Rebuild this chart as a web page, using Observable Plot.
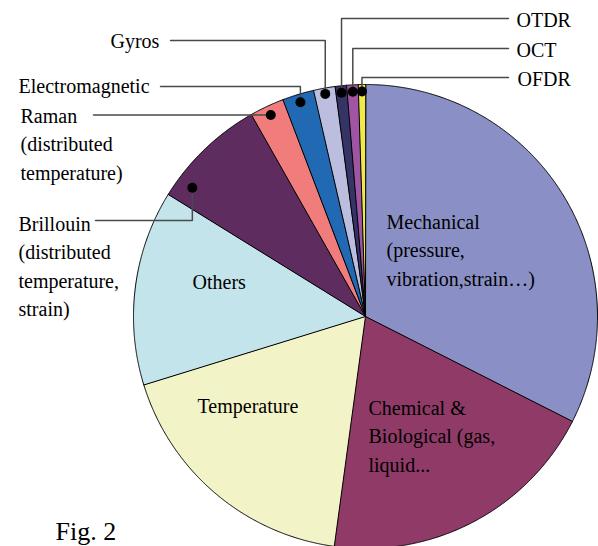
<!DOCTYPE html>
<html>
<head>
<meta charset="utf-8">
<script src="https://cdn.jsdelivr.net/npm/d3@7"></script>
<script src="https://cdn.jsdelivr.net/npm/@observablehq/plot@0.6"></script>
<style>
  html, body { margin: 0; padding: 0; background: #ffffff; }
  #chart svg { display: block; }
</style>
</head>
<body>
<div id="chart"></div>
<script>
// ---------- data ----------
const categories = ["Mechanical", "Chemical & Biological", "Temperature", "Others", "Brillouin",
  "Raman", "Electromagnetic", "Gyros", "OTDR", "OCT", "OFDR"];
const values = [32.5, 19.7, 18.1, 13.6, 8.0, 2.4, 2.2, 1.5, 0.8, 0.8, 0.5];
const labels = [
  "Mechanical\n(pressure,\nvibration,strain…)",
  "Chemical &\nBiological (gas,\nliquid...",
  "Temperature",
  "Others",
  "Brillouin\n(distributed\ntemperature,\nstrain)",
  "Raman\n(distributed\ntemperature)",
  "Electromagnetic",
  "Gyros",
  "OTDR",
  "OCT",
  "OFDR"
];
const figureLabel = "Fig. 2";

// ---------- styles ----------
const colors = ["#8a90c6", "#903a68", "#f3f3c8", "#c2e4ea", "#5f2c60",
  "#f07c7c", "#2169b3", "#bcbee0", "#363466", "#a054a4", "#eeea4c"];

// ---------- layout (pixels) ----------
const W = 598, H = 546, CX = 365, CY = 316, R = 232;
const px = x => (x - CX) / R;
const py = y => (CY - y) / R;
const LINE = 28.6, FS = 20;
const FONT = "'Liberation Serif', 'Times New Roman', serif";

// label anchors: x of text start, baseline of first line
const labelPos = {
  "Mechanical": [386, 228],
  "Chemical & Biological": [368, 414],
  "Temperature": [197, 412],
  "Others": [192, 288],
  "Brillouin": [18, 230],
  "Raman": [20, 122],
  "Electromagnetic": [18, 92],
  "Gyros": [110, 47],
  "OTDR": [516, 26],
  "OCT": [516, 56],
  "OFDR": [517, 85]
};
// callouts: dot inside slice (fraction along slice, fraction of radius), leader path
const callouts = {
  "Brillouin": {frac: 0.17, rf: 0.93, lineY: 220, endX: 95},
  "Raman": {frac: 0.5, rf: 0.96, lineY: null, endX: 93},
  "Electromagnetic": {frac: 0.5, rf: 0.965, lineY: 86, endX: 160},
  "Gyros": {frac: 0.5, rf: 0.975, lineY: 40, endX: 170},
  "OTDR": {frac: 0.5, rf: 0.97, lineY: 18, endX: 508},
  "OCT": {frac: 0.5, rf: 0.97, lineY: 48, endX: 508},
  "OFDR": {frac: 0.5, rf: 0.97, lineY: 77, endX: 508}
};

// ---------- geometry ----------
const arcs = d3.pie().sort(null).value((d, i) => values[i])(categories);

const sliceMarks = arcs.map((a, i) => {
  const pts = [{x: 0, y: 0}];
  const n = Math.max(2, Math.ceil((a.endAngle - a.startAngle) / (Math.PI / 720)));
  for (let k = 0; k <= n; k++) {
    const t = a.startAngle + (a.endAngle - a.startAngle) * k / n;
    pts.push({x: Math.sin(t), y: Math.cos(t)});
  }
  return Plot.line(pts, {
    x: "x", y: "y", curve: "linear-closed",
    fill: colors[i], stroke: "#000", strokeWidth: 1, strokeLinejoin: "round"
  });
});

const dots = [];
const leaders = [];
arcs.forEach((a, i) => {
  const c = callouts[categories[i]];
  if (!c) return;
  const t = a.startAngle + (a.endAngle - a.startAngle) * c.frac;
  const dx = c.rf * Math.sin(t), dy = c.rf * Math.cos(t);
  dots.push({x: dx, y: dy});
  const ly = c.lineY == null ? dy : py(c.lineY);
  leaders.push({k: i, x: dx, y: dy});
  leaders.push({k: i, x: dx, y: ly});
  leaders.push({k: i, x: px(c.endX), y: ly});
});

const textData = categories.map((c, i) => {
  const [x, y] = labelPos[c];
  const n = labels[i].split("\n").length;
  return {x: px(x), y: py(y + (n - 1) * LINE), text: labels[i]};
});

const chart = Plot.plot({
  width: W, height: H,
  marginTop: 0, marginRight: 0, marginBottom: 0, marginLeft: 0,
  x: {domain: [px(0), px(W)], range: [0, W], axis: null},
  y: {domain: [py(H), py(0)], range: [H, 0], axis: null},
  style: {background: "#ffffff", fontFamily: FONT},
  marks: [
    ...sliceMarks,
    Plot.line(leaders, {x: "x", y: "y", z: "k", stroke: "#4a4a4a", strokeWidth: 1.5, curve: "linear"}),
    Plot.dot(dots, {x: "x", y: "y", r: 5, fill: "#000", stroke: "none"}),
    Plot.text(textData, {
      x: "x", y: "y", text: "text", textAnchor: "start", lineAnchor: "bottom",
      lineHeight: LINE / FS, fontSize: FS, fill: "#000", fontFamily: FONT
    }),
    Plot.text([figureLabel], {
      x: px(55), y: py(539), text: d => d, textAnchor: "start", lineAnchor: "bottom",
      fontSize: 26, fill: "#000", fontFamily: FONT
    })
  ]
});
document.getElementById("chart").appendChild(chart);
</script>
</body>
</html>
